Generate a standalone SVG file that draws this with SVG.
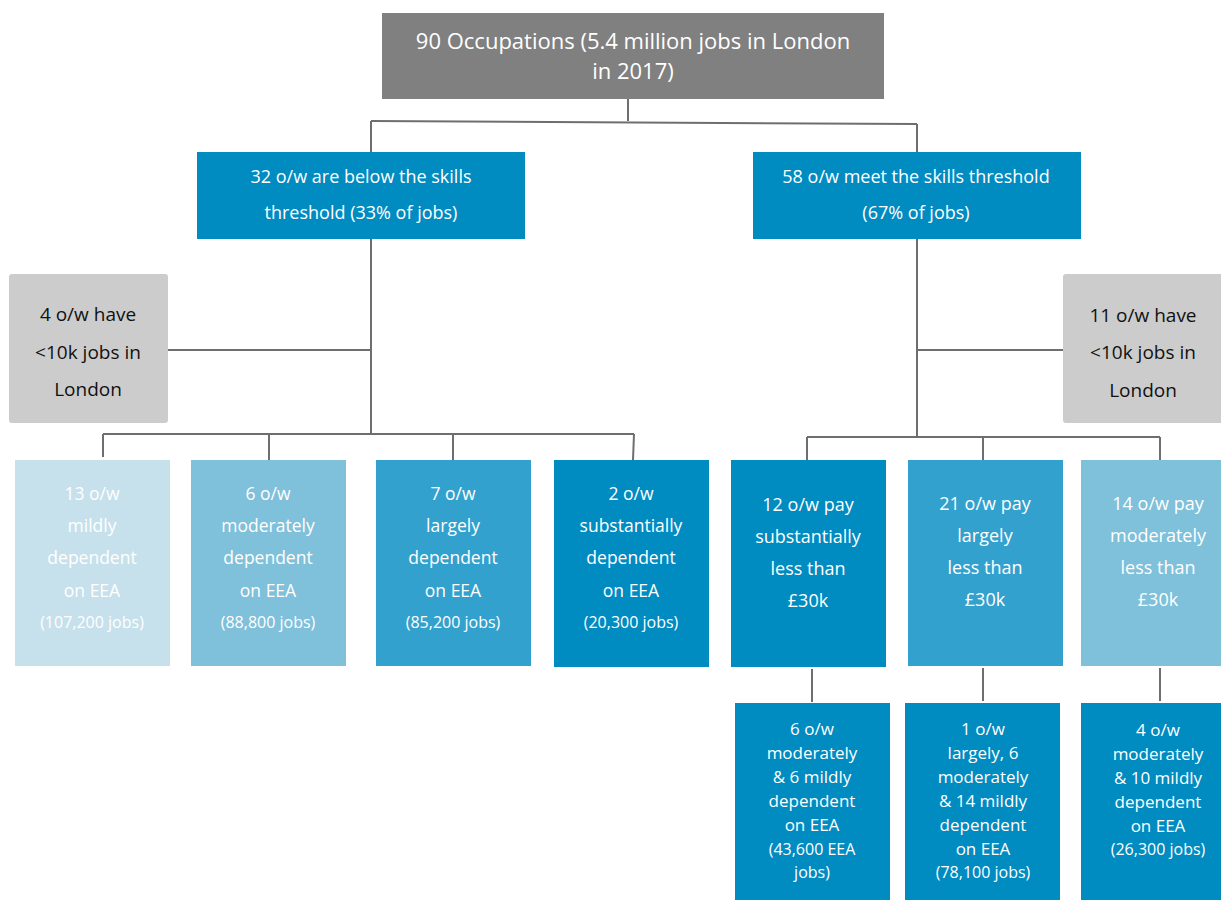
<svg xmlns="http://www.w3.org/2000/svg" width="1221" height="900" viewBox="0 0 1221 900">
<style>
text{font-family:"Open Sans","Noto Sans","Liberation Sans",sans-serif;text-anchor:middle;fill:#ffffff}
.t22{font-size:22px}
.t18{font-size:18px}
.t175{font-size:17.5px}
.t17{font-size:17px}
.s{font-size:16px}
.g{font-size:19px;fill:#111111}
.conn{fill:none;stroke:#6e6e6e;stroke-width:2}
.c0{fill:#808080}
.c1{fill:#008bc1}
.c2{fill:#33a1cd}
.c3{fill:#7fc0da}
.c4{fill:#c6e1ec}
.cg{fill:#cccccc}
</style>
<rect width="1221" height="900" fill="#ffffff"/>
<g id="connectors" class="conn">
<path d="M628 99V121"/>
<path d="M371 121L917 124"/>
<path d="M371 121V152"/>
<path d="M917 124V152"/>
<path d="M371 239V434"/>
<path d="M168 350H371"/>
<path d="M103 434H634"/>
<path d="M103 434V457"/>
<path d="M269 434V460"/>
<path d="M453 434V460"/>
<path d="M634 434L633 460"/>
<path d="M917 239V437"/>
<path d="M917 350H1066"/>
<path d="M807 437H1160"/>
<path d="M807 437V460"/>
<path d="M983 437V460"/>
<path d="M1160 437V460"/>
<path d="M812 669V702"/>
<path d="M983 668V701"/>
<path d="M1160 668V701"/>
</g>
<g id="root">
<rect class="c0" x="382" y="13" width="502" height="86"/>
<text class="t22" x="633" y="49">90 Occupations (5.4 million jobs in London</text>
<text class="t22" x="633" y="79">in 2017)</text>
</g>
<g id="below">
<rect class="c1" x="197" y="152" width="328" height="87"/>
<text class="t18" x="361" y="183">32 o/w are below the skills</text>
<text class="t18" x="361" y="219">threshold (33% of jobs)</text>
</g>
<g id="meet">
<rect class="c1" x="753" y="152" width="328" height="87"/>
<text class="t18" x="916" y="183">58 o/w meet the skills threshold</text>
<text class="t18" x="916" y="219">(67% of jobs)</text>
</g>
<g id="few-left">
<rect class="cg" x="9" y="274" width="159" height="149" rx="3"/>
<text class="g" x="88" y="321">4 o/w have</text>
<text class="g" x="88" y="359">&lt;10k jobs in</text>
<text class="g" x="88" y="396">London</text>
</g>
<g id="few-right">
<rect class="cg" x="1063" y="274" width="162" height="149" rx="3"/>
<text class="g" x="1143" y="322">11 o/w have</text>
<text class="g" x="1143" y="359">&lt;10k jobs in</text>
<text class="g" x="1143" y="397">London</text>
</g>
<g id="mild">
<rect class="c4" x="15" y="460" width="155" height="206"/>
<text class="t175" x="92" y="500">13 o/w</text>
<text class="t175" x="92" y="532">mildly</text>
<text class="t175" x="92" y="564">dependent</text>
<text class="t175" x="92" y="597">on EEA</text>
<text class="s" x="92" y="628">(107,200 jobs)</text>
</g>
<g id="moderate">
<rect class="c3" x="191" y="460" width="155" height="206"/>
<text class="t175" x="268" y="500">6 o/w</text>
<text class="t175" x="268" y="532">moderately</text>
<text class="t175" x="268" y="564">dependent</text>
<text class="t175" x="268" y="597">on EEA</text>
<text class="s" x="268" y="628">(88,800 jobs)</text>
</g>
<g id="large">
<rect class="c2" x="376" y="460" width="155" height="206"/>
<text class="t175" x="453" y="500">7 o/w</text>
<text class="t175" x="453" y="532">largely</text>
<text class="t175" x="453" y="564">dependent</text>
<text class="t175" x="453" y="597">on EEA</text>
<text class="s" x="453" y="628">(85,200 jobs)</text>
</g>
<g id="substantial">
<rect class="c1" x="554" y="460" width="155" height="207"/>
<text class="t175" x="631" y="500">2 o/w</text>
<text class="t175" x="631" y="532">substantially</text>
<text class="t175" x="631" y="564">dependent</text>
<text class="t175" x="631" y="597">on EEA</text>
<text class="s" x="631" y="628">(20,300 jobs)</text>
</g>
<g id="pay-sub">
<rect class="c1" x="731" y="460" width="155" height="207"/>
<text class="t18" x="808" y="511">12 o/w pay</text>
<text class="t18" x="808" y="543">substantially</text>
<text class="t18" x="808" y="575">less than</text>
<text class="t18" x="808" y="607">£30k</text>
</g>
<g id="pay-large">
<rect class="c2" x="908" y="460" width="155" height="206"/>
<text class="t18" x="985" y="510">21 o/w pay</text>
<text class="t18" x="985" y="542">largely</text>
<text class="t18" x="985" y="574">less than</text>
<text class="t18" x="985" y="606">£30k</text>
</g>
<g id="pay-mod">
<rect class="c3" x="1081" y="460" width="144" height="206"/>
<text class="t18" x="1158" y="510">14 o/w pay</text>
<text class="t18" x="1158" y="542">moderately</text>
<text class="t18" x="1158" y="574">less than</text>
<text class="t18" x="1158" y="606">£30k</text>
</g>
<g id="dep-sub">
<rect class="c1" x="735" y="703" width="155" height="200"/>
<text class="t17" x="812" y="735">6 o/w</text>
<text class="t17" x="812" y="759">moderately</text>
<text class="t17" x="812" y="783">&amp; 6 mildly</text>
<text class="t17" x="812" y="807">dependent</text>
<text class="t17" x="812" y="831">on EEA</text>
<text class="s" x="812" y="855">(43,600 EEA</text>
<text class="s" x="812" y="878">jobs)</text>
</g>
<g id="dep-large">
<rect class="c1" x="905" y="703" width="155" height="200"/>
<text class="t17" x="983" y="735">1 o/w</text>
<text class="t17" x="983" y="759">largely, 6</text>
<text class="t17" x="983" y="783">moderately</text>
<text class="t17" x="983" y="807">&amp; 14 mildly</text>
<text class="t17" x="983" y="831">dependent</text>
<text class="t17" x="983" y="855">on EEA</text>
<text class="s" x="983" y="878">(78,100 jobs)</text>
</g>
<g id="dep-mod">
<rect class="c1" x="1081" y="703" width="144" height="200"/>
<text class="t17" x="1158" y="736">4 o/w</text>
<text class="t17" x="1158" y="760">moderately</text>
<text class="t17" x="1158" y="784">&amp; 10 mildly</text>
<text class="t17" x="1158" y="808">dependent</text>
<text class="t17" x="1158" y="832">on EEA</text>
<text class="s" x="1158" y="855">(26,300 jobs)</text>
</g>
</svg>
